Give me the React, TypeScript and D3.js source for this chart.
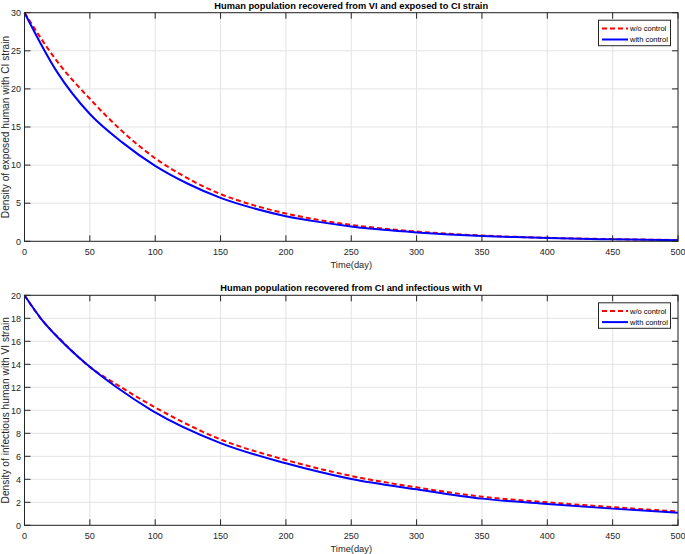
import React from "react";
import * as d3 from "d3";

// Top panel: exposed human with CI strain
const topDays = [0, 25, 50, 75, 100, 125, 150, 175, 200, 225, 250, 275, 300, 325, 350, 375, 400, 425, 450, 475, 500];
const topWithoutVals = [30, 23.6, 18.7, 14.4, 10.9, 8.25, 6.2, 4.75, 3.65, 2.8, 2.15, 1.66, 1.28, 0.98, 0.76, 0.59, 0.46, 0.36, 0.28, 0.22, 0.17];
const topWithVals = [30, 22.2, 16.7, 12.95, 9.9, 7.55, 5.7, 4.35, 3.3, 2.55, 1.95, 1.5, 1.17, 0.9, 0.7, 0.55, 0.43, 0.33, 0.26, 0.2, 0.15];

// Bottom panel: infectious human with VI strain
const botWithoutDays = [0, 12.4, 28.4, 47.5, 74, 104, 150, 200, 250, 300, 350, 400, 450, 500];
const botWithoutVals = [20, 18, 16.05, 14, 12, 10, 7.47, 5.68, 4.29, 3.3, 2.49, 2.0, 1.58, 1.2];
const botWithDays = [0, 12.4, 28.4, 47.6, 70.5, 97.3, 150, 200, 250, 300, 350, 400, 450, 500];
const botWithVals = [20, 18, 16, 14, 12, 10, 7.15, 5.39, 4.03, 3.13, 2.32, 1.85, 1.45, 1.1];

const xTicks = [0, 50, 100, 150, 200, 250, 300, 350, 400, 450, 500];
const topYTicks = [0, 5, 10, 15, 20, 25, 30];
const botYTicks = [0, 2, 4, 6, 8, 10, 12, 14, 16, 18, 20];

const legendLabels = ["w/o control", "with control"];

const FONT = "'Liberation Sans', Arial, Helvetica, sans-serif";
const AX = "#262626";
const GRID = "#e3e3e3";

type PanelProps = {
  top: number;
  bottom: number;
  yMax: number;
  yTicks: number[];
  woDays: number[];
  woVals: number[];
  wDays: number[];
  wVals: number[];
  title: string;
  ylabel: string;
};

function Panel({ top, bottom, yMax, yTicks, woDays, woVals, wDays, wVals, title, ylabel }: PanelProps) {
  const left = 24.5;
  const right = 678;
  const x = d3.scaleLinear().domain([0, 500]).range([left, right]);
  const y = d3.scaleLinear().domain([0, yMax]).range([bottom, top]);
  const mk = (days: number[], vals: number[]) =>
    d3
      .line<number>()
      .x((_, i) => x(days[i]))
      .y((d) => y(d))
      .curve(d3.curveMonotoneX)(vals) || "";
  const tl = 6;
  const legX = 598.5;
  const legY = top + 7.5;
  return (
    <g>
      {xTicks.map((t) => (
        <line key={"gx" + t} x1={x(t)} x2={x(t)} y1={top} y2={bottom} stroke={GRID} strokeWidth={1} />
      ))}
      {yTicks.map((t) => (
        <line key={"gy" + t} x1={left} x2={right} y1={y(t)} y2={y(t)} stroke={GRID} strokeWidth={1} />
      ))}
      <path d={mk(woDays, woVals)} fill="none" stroke="#ff0000" strokeWidth={2} strokeDasharray="5,3" />
      <path d={mk(wDays, wVals)} fill="none" stroke="#0000ff" strokeWidth={2} />
      <rect x={left} y={top} width={right - left} height={bottom - top} fill="none" stroke={AX} strokeWidth={1} />
      {xTicks.map((t) => (
        <g key={"tx" + t}>
          <line x1={x(t)} x2={x(t)} y1={bottom} y2={bottom - tl} stroke={AX} />
          <line x1={x(t)} x2={x(t)} y1={top} y2={top + tl} stroke={AX} />
          <text x={x(t)} y={bottom + 14} textAnchor="middle" fontSize={9} fill={AX} fontFamily={FONT}>
            {t}
          </text>
        </g>
      ))}
      {yTicks.map((t) => (
        <g key={"ty" + t}>
          <line x1={left} x2={left + tl} y1={y(t)} y2={y(t)} stroke={AX} />
          <line x1={right} x2={right - tl} y1={y(t)} y2={y(t)} stroke={AX} />
          <text x={left - 3.5} y={y(t) + 3.2} textAnchor="end" fontSize={9} fill={AX} fontFamily={FONT}>
            {t}
          </text>
        </g>
      ))}
      <text x={(left + right) / 2} y={bottom + 26.5} textAnchor="middle" fontSize={9.3} fill={AX} fontFamily={FONT}>
        Time(day)
      </text>
      <text
        transform={`translate(9,${(top + bottom) / 2}) rotate(-90)`}
        textAnchor="middle"
        fontSize={10.2}
        fill={AX}
        fontFamily={FONT}
      >
        {ylabel}
      </text>
      <text x={(left + right) / 2} y={top - 4} textAnchor="middle" fontSize={9.3} fontWeight="bold" fill="#000" fontFamily={FONT}>
        {title}
      </text>
      <rect x={legX} y={legY} width={72} height={25.5} fill="#fff" stroke={AX} strokeWidth={1} />
      {legendLabels.map((lab, i) => (
        <g key={lab}>
          <line
            x1={legX + 3.5}
            x2={legX + 29.5}
            y1={legY + 8.3 + i * 11}
            y2={legY + 8.3 + i * 11}
            stroke={i === 0 ? "#ff0000" : "#0000ff"}
            strokeWidth={2}
            strokeDasharray={i === 0 ? "5,3" : undefined}
          />
          <text x={legX + 31.5} y={legY + 11 + i * 11} fontSize={7.5} fill="#000" fontFamily={FONT}>
            {lab}
          </text>
        </g>
      ))}
    </g>
  );
}

export default function App() {
  return (
    <svg width={685} height={554} style={{ position: "absolute", left: 0, top: 0, background: "#fff" }}>
      <rect width={685} height={554} fill="#fff" />
      <Panel
        top={12.7}
        bottom={241.3}
        yMax={30}
        yTicks={topYTicks}
        woDays={topDays}
        woVals={topWithoutVals}
        wDays={topDays}
        wVals={topWithVals}
        title="Human population recovered from VI and exposed to CI strain"
        ylabel="Density of exposed human with CI strain"
      />
      <Panel
        top={295.3}
        bottom={525.3}
        yMax={20}
        yTicks={botYTicks}
        woDays={botWithoutDays}
        woVals={botWithoutVals}
        wDays={botWithDays}
        wVals={botWithVals}
        title="Human population recovered from CI and infectious with VI"
        ylabel="Density of infectious human with VI strain"
      />
    </svg>
  );
}
